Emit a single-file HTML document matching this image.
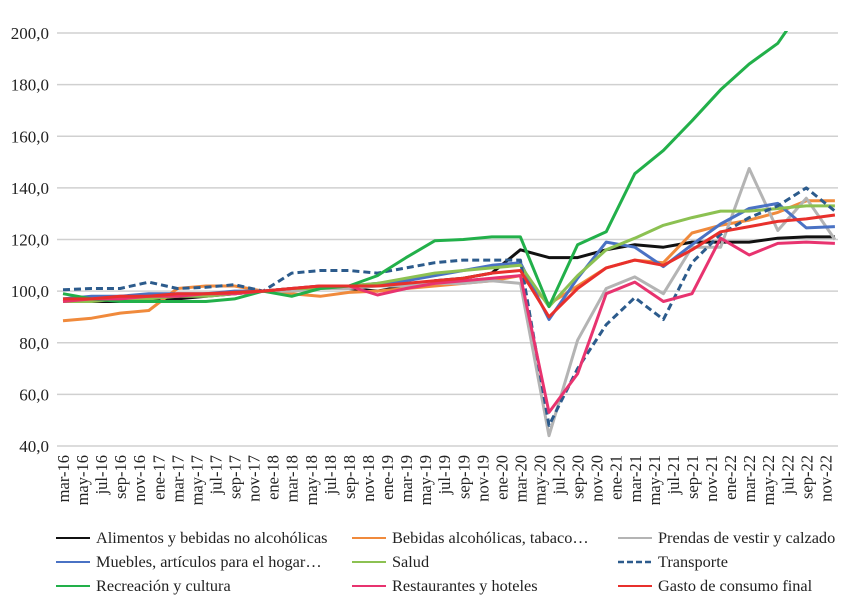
<!DOCTYPE html>
<html><head><meta charset="utf-8"><style>
body{margin:0;background:#fff;}
svg text{font-family:"Liberation Serif",serif;fill:#222;}
</style></head><body>
<svg id="chart" width="853" height="604" viewBox="0 0 853 604" xmlns="http://www.w3.org/2000/svg">
<g id="grid"></g>
<g id="yaxis"></g>
<g id="xaxis"></g>
<defs><clipPath id="clip"><rect x="40" y="31" width="810" height="430"/></clipPath></defs>
<g id="series" clip-path="url(#clip)"></g>
<g id="legend"></g>
</svg>
<script>
const monthLabels = ["mar-16","may-16","jul-16","sep-16","nov-16","ene-17","mar-17","may-17","jul-17","sep-17","nov-17","ene-18","mar-18","may-18","jul-18","sep-18","nov-18","ene-19","mar-19","may-19","jul-19","sep-19","nov-19","ene-20","mar-20","may-20","jul-20","sep-20","nov-20","ene-21","mar-21","may-21","jul-21","sep-21","nov-21","ene-22","mar-22","may-22","jul-22","sep-22","nov-22"];
const yTicks = [40,60,80,100,120,140,160,180,200];
const yTickLabels = ["40,0","60,0","80,0","100,0","120,0","140,0","160,0","180,0","200,0"];
// quarterly observations: mar-16, jun-16, sep-16, dec-16, ... dec-22
const alimentos = [96,96,96,97,97,98,99,100,101,101,101,100,102,104,105,107,116,113,113,116,118,117,119,119,119,120.5,121,121];
const bebidas = [88.5,89.5,91.5,92.5,101,102,102,100,99,98,99.5,100,101,102,103,104,106,95,102,109,112,111,122.5,125.5,127.5,130.5,135,135];
const prendas = [97,97,98,98,98,99,99,100,100,101,101,102,102,103,103,104,103,44,81,101,105.5,99,117,117,147.5,123.5,136,120];
const muebles = [97,98,98,99,99,99,100,100,101,102,102,103,104,106,108,110,111,89,105,119,117,109.5,118,126,132,134,124.5,125];
const salud = [96,96,97,97,98,98,99,100,101,101,102,103,105,107,108,109,110,94,106,116,120.5,125.5,128.5,131,131,132,133,133];
const transporte = [100.5,101,101,103.5,101,101.5,102.5,100,107,108,108,107,109,111,112,112,112,48,70,87,97.5,89,111,122,128.5,133,140,131];
const recreacion = [99,97,96,96,96,96,97,100,98,101,102,106,113,119.5,120,121,121,94,118,123,145.5,154.5,166,178,188,196,212,225];
const restaurantes = [96,97,97,98,98,99,99,100,101,102,102,98.5,101,103,104,105,106,53,68,99,103.5,96,99,120.5,114,118.5,119,118.5];
const gasto = [97,97,98,98,99,99,99.5,100,101,102,102,102,103,104,105,107,108,90,101,109,112,110,116,123,125,127,128,129.5];
const seriesNames = ["Alimentos y bebidas no alcohólicas","Bebidas alcohólicas, tabaco…","Prendas de vestir y calzado","Muebles, artículos para el hogar…","Salud","Transporte","Recreación y cultura","Restaurantes y hoteles","Gasto de consumo final"];
const seriesData = [alimentos,bebidas,prendas,muebles,salud,transporte,recreacion,restaurantes,gasto];
const seriesColors = ["#111111","#f08a3c","#b4b4b4","#4a72c4","#8cc152","#2c5b8c","#22b04a","#e8336f","#e8302c"];
const seriesKeys = ["alimentos","bebidas","prendas","muebles","salud","transporte","recreacion","restaurantes","gasto"];

const NS="http://www.w3.org/2000/svg";
const X0=63, MW=9.53, Y0=446, YU=(446-33)/160;
function xMonth(m){return X0+m*MW;}
function yVal(v){return Y0-(v-40)*YU;}
function mk(tag,attrs,parent){const e=document.createElementNS(NS,tag);for(const k in attrs)e.setAttribute(k,attrs[k]);parent.appendChild(e);return e;}
const grid=document.getElementById('grid'),ya=document.getElementById('yaxis'),xa=document.getElementById('xaxis'),ser=document.getElementById('series'),leg=document.getElementById('legend');
yTicks.forEach((t,i)=>{
  const l=mk('line',{x1:57,x2:838,y1:yVal(t),y2:yVal(t),stroke:'#d0d0d0','stroke-width':1.5},grid);
  
  
  const tx=mk('text',{x:49,y:yVal(t)+6,'text-anchor':'end','font-size':17},ya);
  tx.textContent=yTickLabels[i];
  
  
});
monthLabels.forEach((lab,i)=>{
  const x=xMonth(i*2);
  const tx=mk('text',{x:0,y:0,'text-anchor':'end','font-size':16.5,transform:`translate(${x+6},455) rotate(-90)`},xa);
  tx.textContent=lab;
  
  
});
seriesData.forEach((d,s)=>{
  const pts=d.map((v,i)=>xMonth(i*3).toFixed(1)+','+yVal(v).toFixed(1)).join(' ');
  const attrs={points:pts,fill:'none',stroke:seriesColors[s],'stroke-width':3,'stroke-linejoin':'round'};
  if(s===5)attrs['stroke-dasharray']='7,4';
  const p=mk('polyline',attrs,ser);
  
  
});
const colX=[56,352,618], rowY=[538,562,586];
seriesNames.forEach((n,s)=>{
  const cx=colX[s%3], cy=rowY[Math.floor(s/3)];
  const g=mk('g',{},leg);
  
  
  const la={x1:cx,x2:cx+34,y1:cy,y2:cy,stroke:seriesColors[s],'stroke-width':2};
  if(s===5){la['stroke-dasharray']='6,3';la['stroke-width']=2.5;}
  mk('line',la,g);
  const t=mk('text',{x:cx+40,y:cy+5,'font-size':16.3},g);
  t.textContent=n;
});
</script>
</body></html>
